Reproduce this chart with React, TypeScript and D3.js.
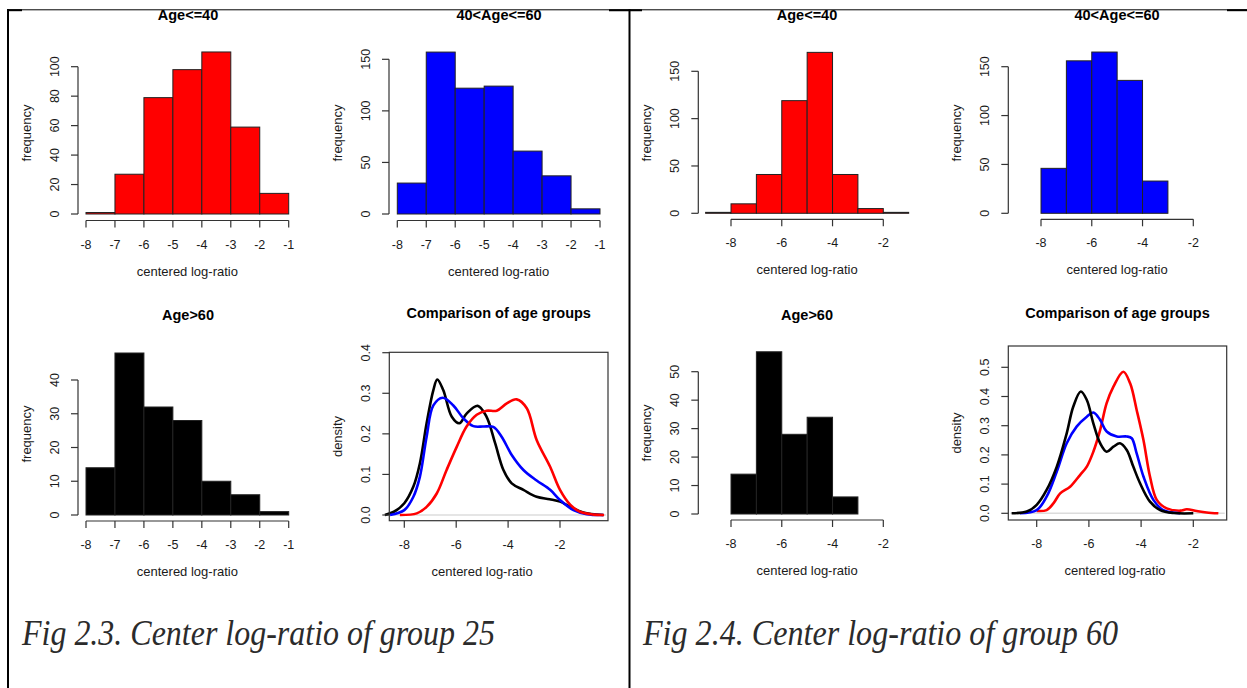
import React from "react";
import * as d3 from "d3";

// ---------- DATA ----------
// Fig 2.3 (group 25): bins of width 1 from -8 to -1
const g25Start = -8;
const g25Young = [1, 27, 79, 98, 110, 59, 14];
const g25Mid = [30, 157, 122, 124, 61, 37, 5];
const g25Old = [14, 48, 32, 28, 10, 6, 1];

// Fig 2.4 (group 60)
const g60YoungStart = -9;
const g60Young = [1, 10, 41, 119, 170, 41, 5, 1];
const g60MidStart = -8;
const g60Mid = [46, 156, 165, 136, 33];
const g60OldStart = -8;
const g60Old = [14, 57, 28, 34, 6];

// density curves, group 25
const d25BlackX = [-8.75, -8.4, -8, -7.65, -7.4, -7.14, -6.88, -6.73, -6.5, -6.17, -5.88, -5.6, -5.17, -4.83, -4.5, -4.18, -3.86, -3.41, -2.9, -2.4, -2, -1.6, -1.1, -0.33];
const d25BlackY = [0, 0.008, 0.029, 0.07, 0.127, 0.226, 0.308, 0.334, 0.308, 0.242, 0.226, 0.25, 0.269, 0.242, 0.177, 0.111, 0.078, 0.062, 0.045, 0.039, 0.033, 0.02, 0.006, 0];
const d25BlueX = [-8.55, -8, -7.65, -7.4, -7.14, -6.88, -6.52, -6.11, -5.72, -5.34, -4.95, -4.57, -4.25, -3.86, -3.41, -2.9, -2.38, -2, -1.48, -0.97, -0.33];
const d25BlueY = [0, 0.012, 0.045, 0.094, 0.193, 0.27, 0.289, 0.27, 0.238, 0.219, 0.218, 0.217, 0.193, 0.148, 0.111, 0.085, 0.062, 0.037, 0.012, 0.002, 0];
const d25RedX = [-8.17, -7.52, -7.14, -6.75, -6.37, -5.98, -5.6, -5.21, -4.83, -4.44, -4.05, -3.67, -3.28, -2.9, -2.38, -2, -1.6, -1.23, -0.71, -0.3];
const d25RedY = [0, 0.004, 0.02, 0.053, 0.111, 0.168, 0.218, 0.247, 0.257, 0.257, 0.275, 0.285, 0.263, 0.185, 0.119, 0.062, 0.025, 0.008, 0.001, 0];

// density curves, group 60
const d60BlackX = [-8.96, -8.38, -8, -7.62, -7.23, -6.85, -6.6, -6.31, -6.08, -5.83, -5.57, -5.32, -5.06, -4.81, -4.55, -4.3, -4.04, -3.66, -3.27, -2.76, -2];
const d60BlackY = [0, 0.006, 0.029, 0.08, 0.16, 0.274, 0.365, 0.417, 0.388, 0.308, 0.24, 0.211, 0.228, 0.24, 0.217, 0.16, 0.103, 0.04, 0.011, 0.001, 0];
const d60BlueX = [-8.64, -8, -7.62, -7.23, -6.85, -6.47, -6.08, -5.83, -5.57, -5.32, -4.93, -4.55, -4.36, -4.17, -3.91, -3.53, -3.15, -2.5];
const d60BlueY = [0, 0.011, 0.057, 0.143, 0.24, 0.297, 0.331, 0.345, 0.32, 0.28, 0.263, 0.263, 0.257, 0.205, 0.126, 0.046, 0.011, 0];
const d60RedX = [-8, -7.62, -7.36, -7.1, -6.72, -6.34, -6.08, -5.83, -5.57, -5.32, -5.06, -4.68, -4.42, -4.17, -3.91, -3.66, -3.4, -3.02, -2.5, -2.25, -1.87, -1.49, -1.04];
const d60RedY = [0.008, 0.011, 0.034, 0.068, 0.091, 0.131, 0.16, 0.211, 0.285, 0.377, 0.434, 0.485, 0.445, 0.354, 0.251, 0.126, 0.046, 0.017, 0.009, 0.014, 0.008, 0.003, 0];

// tick labels
const xTicks25 = [-8, -7, -6, -5, -4, -3, -2, -1];
const xTicks60 = [-8, -6, -4, -2];
const xTicksDens = [-8, -6, -4, -2];
const yTicksP1 = [0, 20, 40, 60, 80, 100];
const yTicksP2 = [0, 50, 100, 150];
const yTicksP3 = [0, 10, 20, 30, 40];
const yTicksP4 = [0, 0.1, 0.2, 0.3, 0.4];
const yTicksP5 = [0, 50, 100, 150];
const yTicksP6 = [0, 50, 100, 150];
const yTicksP7 = [0, 10, 20, 30, 40, 50];
const yTicksP8 = [0, 0.1, 0.2, 0.3, 0.4, 0.5];

const captions = ["Fig 2.3. Center log-ratio of group 25", "Fig 2.4. Center log-ratio of group 60"];

// ---------- STYLE ----------
const FONT = "'Liberation Sans', Arial, Helvetica, sans-serif";
const AX = "#333";
const TXT = "#1a1a1a";

type HistCfg = {
  title: string; titleX: number; titleY: number;
  xd: [number, number]; xr: [number, number];
  yd: [number, number]; yr: [number, number];
  xAxisY: number; yAxisX: number; yLabelY: number;
  xTicks: number[]; yTicks: number[];
};

function Axes({ x, y, xTicks, yTicks, xAxisY, yAxisX, yLabel, yLabelY, fmtY, drawLines }: any) {
  const tl = 7;
  return (
    <g>
      {drawLines && (
        <line x1={x(xTicks[0])} x2={x(xTicks[xTicks.length - 1])} y1={xAxisY} y2={xAxisY} stroke={AX} strokeWidth={1.2} />
      )}
      {xTicks.map((t: number) => (
        <g key={"x" + t}>
          <line x1={x(t)} x2={x(t)} y1={xAxisY} y2={xAxisY + tl} stroke={AX} strokeWidth={1.2} />
          <text x={x(t)} y={xAxisY + 28} textAnchor="middle" fontSize={12.5} fontFamily={FONT} fill={TXT}>{t}</text>
        </g>
      ))}
      <text x={(x(xTicks[0]) + x(xTicks[xTicks.length - 1])) / 2} y={xAxisY + 55} textAnchor="middle" fontSize={13} fontFamily={FONT} fill={TXT}>centered log-ratio</text>
      {drawLines && (
        <line x1={yAxisX} x2={yAxisX} y1={y(yTicks[0])} y2={y(yTicks[yTicks.length - 1])} stroke={AX} strokeWidth={1.2} />
      )}
      {yTicks.map((t: number) => (
        <g key={"y" + t}>
          <line x1={yAxisX} x2={yAxisX - tl} y1={y(t)} y2={y(t)} stroke={AX} strokeWidth={1.2} />
          <text transform={`translate(${yAxisX - 19},${y(t)}) rotate(-90)`} textAnchor="middle" fontSize={12.5} fontFamily={FONT} fill={TXT}>{fmtY ? fmtY(t) : t}</text>
        </g>
      ))}
      <text transform={`translate(${yAxisX - 47},${yLabelY}) rotate(-90)`} textAnchor="middle" fontSize={13} fontFamily={FONT} fill={TXT}>{yLabel}</text>
    </g>
  );
}

function Hist({ cfg, counts, start, fill }: { cfg: HistCfg; counts: number[]; start: number; fill: string }) {
  const x = d3.scaleLinear().domain(cfg.xd).range(cfg.xr);
  const y = d3.scaleLinear().domain(cfg.yd).range(cfg.yr);
  const bins = counts.map((c, i) => ({ x0: start + i, x1: start + i + 1, c }));
  return (
    <g>
      <text x={cfg.titleX} y={cfg.titleY} textAnchor="middle" fontSize={14.5} fontWeight="bold" fontFamily={FONT} fill="#000">{cfg.title}</text>
      {bins.map((b, i) => (
        <rect key={i} x={x(b.x0)} y={y(b.c)} width={x(b.x1) - x(b.x0)} height={Math.max(y(0) - y(b.c), 0.5)}
          fill={fill} stroke="#222" strokeWidth={1} />
      ))}
      <Axes x={x} y={y} xTicks={cfg.xTicks} yTicks={cfg.yTicks} xAxisY={cfg.xAxisY} yAxisX={cfg.yAxisX}
        yLabel="frequency" yLabelY={cfg.yLabelY} drawLines={true} />
    </g>
  );
}

type DensCfg = {
  title: string; titleX: number; titleY: number;
  box: [number, number, number, number];
  xd: [number, number]; xr: [number, number];
  yd: [number, number]; yr: [number, number];
  xTicks: number[]; yTicks: number[];
};

function Dens({ cfg, series }: { cfg: DensCfg; series: { xs: number[]; ys: number[]; color: string }[] }) {
  const x = d3.scaleLinear().domain(cfg.xd).range(cfg.xr);
  const y = d3.scaleLinear().domain(cfg.yd).range(cfg.yr);
  const [bx0, by0, bx1, by1] = cfg.box;
  const line = d3.line<[number, number]>().x((d) => x(d[0])).y((d) => y(d[1])).curve(d3.curveCatmullRom.alpha(0.5));
  return (
    <g>
      <text x={cfg.titleX} y={cfg.titleY} textAnchor="middle" fontSize={14.5} fontWeight="bold" fontFamily={FONT} fill="#000">{cfg.title}</text>
      <line x1={bx0 + 2} x2={bx1 - 2} y1={y(0)} y2={y(0)} stroke="#dcdcdc" strokeWidth={1.6} />
      {series.map((s, i) => (
        <path key={i} d={line(s.xs.map((v, j) => [v, s.ys[j]] as [number, number])) || ""} fill="none" stroke={s.color} strokeWidth={2.6} strokeLinejoin="round" />
      ))}
      <rect x={bx0} y={by0} width={bx1 - bx0} height={by1 - by0} fill="none" stroke={AX} strokeWidth={1.2} />
      <Axes x={x} y={y} xTicks={cfg.xTicks} yTicks={cfg.yTicks} xAxisY={by1} yAxisX={bx0}
        yLabel="density" yLabelY={(by0 + by1) / 2} fmtY={(t: number) => t.toFixed(1)} drawLines={false} />
    </g>
  );
}

export default function App() {
  const p1: HistCfg = { title: "Age<=40", titleX: 188, titleY: 20, xd: [-8, -1], xr: [86, 288.7], yd: [0, 100], yr: [214, 66.7], xAxisY: 220.5, yAxisX: 78, yLabelY: 133, xTicks: xTicks25, yTicks: yTicksP1 };
  const p2: HistCfg = { title: "40<Age<=60", titleX: 499, titleY: 20, xd: [-8, -1], xr: [397.3, 600], yd: [0, 150], yr: [214, 59.3], xAxisY: 220.5, yAxisX: 389, yLabelY: 133, xTicks: xTicks25, yTicks: yTicksP2 };
  const p3: HistCfg = { title: "Age>60", titleX: 188, titleY: 320, xd: [-8, -1], xr: [86, 288.7], yd: [0, 40], yr: [515, 380], xAxisY: 521, yAxisX: 78, yLabelY: 434, xTicks: xTicks25, yTicks: yTicksP3 };
  const p4: DensCfg = { title: "Comparison of age groups", titleX: 498.7, titleY: 318, box: [389.3, 352.3, 608, 520.7], xd: [-8, -2], xr: [404.3, 560], yd: [0, 0.4], yr: [515, 352.7], xTicks: xTicksDens, yTicks: yTicksP4 };
  const p5: HistCfg = { title: "Age<=40", titleX: 807, titleY: 20, xd: [-8, -2], xr: [731, 883.3], yd: [0, 150], yr: [213.3, 71.3], xAxisY: 219.3, yAxisX: 698.3, yLabelY: 133, xTicks: xTicks60, yTicks: yTicksP5 };
  const p6: HistCfg = { title: "40<Age<=60", titleX: 1117, titleY: 20, xd: [-8, -2], xr: [1041, 1193.3], yd: [0, 150], yr: [213.3, 66.7], xAxisY: 219.3, yAxisX: 1008.3, yLabelY: 133, xTicks: xTicks60, yTicks: yTicksP6 };
  const p7: HistCfg = { title: "Age>60", titleX: 807, titleY: 320, xd: [-8, -2], xr: [731, 883.3], yd: [0, 50], yr: [514, 371.7], xAxisY: 520, yAxisX: 698.3, yLabelY: 433, xTicks: xTicks60, yTicks: yTicksP7 };
  const p8: DensCfg = { title: "Comparison of age groups", titleX: 1117.5, titleY: 318, box: [1008.3, 346, 1226.7, 520], xd: [-8, -2], xr: [1036.7, 1193.3], yd: [0, 0.5], yr: [513.3, 367.3], xTicks: xTicksDens, yTicks: yTicksP8 };

  return (
    <svg width={1247} height={688} style={{ position: "absolute", left: 0, top: 0, background: "#fff" }}>
      <rect x={0} y={0} width={1247} height={688} fill="#fff" />
      {/* frame */}
      <line x1={7} x2={1247} y1={9.8} y2={9.8} stroke="#000" strokeWidth={1} />
      <line x1={7} x2={22} y1={10.2} y2={10.2} stroke="#000" strokeWidth={2} />
      <line x1={609} x2={642} y1={10.2} y2={10.2} stroke="#000" strokeWidth={2} />
      <line x1={1227} x2={1247} y1={10.2} y2={10.2} stroke="#000" strokeWidth={2} />
      <line x1={8} x2={8} y1={9.3} y2={688} stroke="#000" strokeWidth={2} />
      <line x1={629.5} x2={629.5} y1={9.3} y2={688} stroke="#000" strokeWidth={2} />

      <Hist cfg={p1} counts={g25Young} start={g25Start} fill="#ff0000" />
      <Hist cfg={p2} counts={g25Mid} start={g25Start} fill="#0000ff" />
      <Hist cfg={p3} counts={g25Old} start={g25Start} fill="#000000" />
      <Dens cfg={p4} series={[
        { xs: d25BlackX, ys: d25BlackY, color: "#000000" },
        { xs: d25BlueX, ys: d25BlueY, color: "#0000ff" },
        { xs: d25RedX, ys: d25RedY, color: "#ff0000" },
      ]} />
      <Hist cfg={p5} counts={g60Young} start={g60YoungStart} fill="#ff0000" />
      <Hist cfg={p6} counts={g60Mid} start={g60MidStart} fill="#0000ff" />
      <Hist cfg={p7} counts={g60Old} start={g60OldStart} fill="#000000" />
      <Dens cfg={p8} series={[
        { xs: d60RedX, ys: d60RedY, color: "#ff0000" },
        { xs: d60BlueX, ys: d60BlueY, color: "#0000ff" },
        { xs: d60BlackX, ys: d60BlackY, color: "#000000" },
      ]} />

      <text x={22} y={645} fontSize={35} fontStyle="italic" fontFamily="'Liberation Serif', 'Times New Roman', serif" fill="#2b2b2b" textLength={473} lengthAdjust="spacingAndGlyphs">{captions[0]}</text>
      <text x={643} y={645} fontSize={35} fontStyle="italic" fontFamily="'Liberation Serif', 'Times New Roman', serif" fill="#2b2b2b" textLength={475} lengthAdjust="spacingAndGlyphs">{captions[1]}</text>
    </svg>
  );
}
